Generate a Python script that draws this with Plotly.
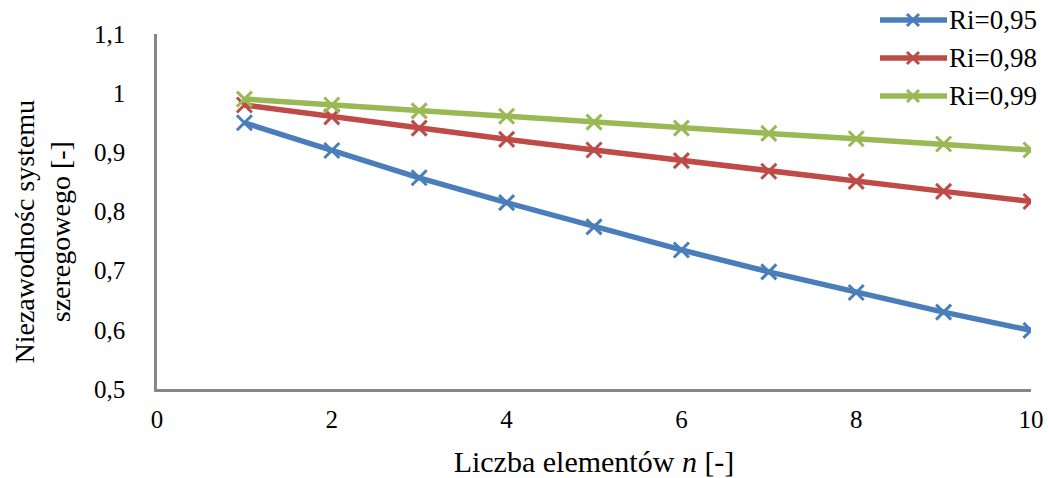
import plotly.graph_objects as go

# Liczba elementów n w systemie szeregowym
n_values = [1, 2, 3, 4, 5, 6, 7, 8, 9, 10]

# Niezawodność systemu dla trzech niezawodności elementu Ri
series_names = ["Ri=0,95", "Ri=0,98", "Ri=0,99"]
r_095 = [0.950, 0.903, 0.857, 0.815, 0.774, 0.735, 0.698, 0.663, 0.630, 0.599]
r_098 = [0.980, 0.960, 0.941, 0.922, 0.904, 0.886, 0.868, 0.851, 0.834, 0.817]
r_099 = [0.990, 0.980, 0.970, 0.961, 0.951, 0.941, 0.932, 0.923, 0.914, 0.904]
series_values = [r_095, r_098, r_099]
series_colors = ["#4A7EBB", "#BE4B48", "#98B954"]

x_ticks = [0, 2, 4, 6, 8, 10]
y_ticks = [0.5, 0.6, 0.7, 0.8, 0.9, 1.0, 1.1]

FONT = "Liberation Serif"
AXIS_GRAY = "#878787"

fig = go.Figure()
for name, vals, col in zip(series_names, series_values, series_colors):
    fig.add_trace(go.Scatter(
        x=n_values, y=vals, name=name, mode="lines+markers",
        line=dict(color=col, width=5.5),
        marker=dict(symbol="x-thin", size=15, line=dict(color=col, width=3)),
        showlegend=False,
    ))

# Legenda rysowana ręcznie w prawym górnym rogu
L, T, W, H = 157, 34, 874, 355
def px(xp):
    return (xp - L) / W
def py(yp):
    return (T + H - yp) / H

shapes = []
annotations = []
for i, (name, col) in enumerate(zip(series_names, series_colors)):
    yy = 20 + i * 38
    shapes.append(dict(type="line", xref="paper", yref="paper",
                       x0=px(880), x1=px(947), y0=py(yy), y1=py(yy),
                       line=dict(color=col, width=5.5)))
    shapes.append(dict(type="path", xref="paper", yref="paper",
                       xsizemode="pixel", ysizemode="pixel",
                       xanchor=px(913), yanchor=py(yy),
                       path="M-6,-6L6,6M-6,6L6,-6",
                       line=dict(color=col, width=3)))
    annotations.append(dict(text=name, xref="paper", yref="paper",
                            x=px(947), y=py(yy), xanchor="left", yanchor="middle",
                            showarrow=False,
                            font=dict(family=FONT, size=27, color="#000")))

# Tytuł osi Y w dwóch liniach
annotations.append(dict(text="Niezawodnośc systemu<br>szeregowego [-]",
                        xref="paper", yref="paper", x=0, y=0.5,
                        xshift=42 - L, yshift=-20, textangle=-90,
                        xanchor="center", yanchor="middle", showarrow=False,
                        font=dict(family=FONT, size=28, color="#000")))

fig.update_layout(
    width=1049, height=478,
    margin=dict(l=L, r=1049 - L - W, t=T, b=478 - T - H),
    paper_bgcolor="white", plot_bgcolor="white",
    font=dict(family=FONT, size=25, color="#000"),
    separators=", ",
    shapes=shapes, annotations=annotations,
    showlegend=False,
)
fig.update_xaxes(
    range=[0, 10], tickvals=x_ticks, showgrid=False, zeroline=False,
    showline=True, linecolor=AXIS_GRAY, linewidth=2.5,
    ticks="", ticklabelstandoff=6,
    tickfont=dict(family=FONT, size=25, color="#000"),
    title=dict(text="Liczba elementów <i>n</i> [-]",
               font=dict(family=FONT, size=30, color="#000"), standoff=22),
    automargin=False,
)
fig.update_yaxes(
    range=[0.5, 1.1], tickvals=y_ticks, showgrid=False, zeroline=False,
    showline=True, linecolor=AXIS_GRAY, linewidth=2.5,
    ticks="", ticklabelstandoff=24,
    tickfont=dict(family=FONT, size=25, color="#000"),
    automargin=False,
)

fig.write_html("out.html")
